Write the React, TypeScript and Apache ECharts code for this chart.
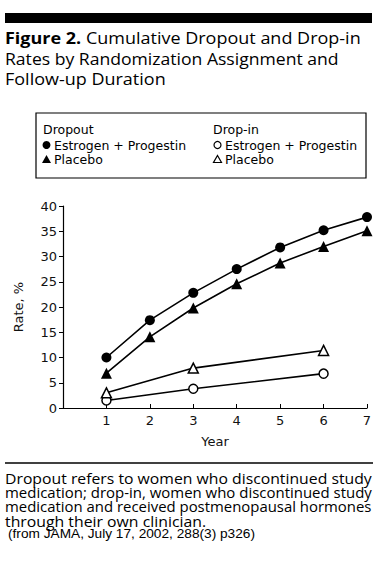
import React, { useEffect, useRef } from "react";
import * as echarts from "echarts";

const years = [1, 2, 3, 4, 5, 6, 7];
const dropinYears = [1, 3, 6];
const dropoutEP = [10.0, 17.4, 22.8, 27.5, 31.8, 35.2, 37.8];
const dropoutPlacebo = [6.9, 14.1, 19.8, 24.6, 28.7, 32.0, 35.1];
const dropinEP = [1.5, 3.8, 6.8];
const dropinPlacebo = [3.0, 7.9, 11.4];
const yTicks = [0, 5, 10, 15, 20, 25, 30, 35, 40];
const xTicks = [1, 2, 3, 4, 5, 6, 7];

const titleLines = [
  "Cumulative Dropout and Drop-in",
  "Rates by Randomization Assignment and",
  "Follow-up Duration",
];
const captionLines = [
  "Dropout refers to women who discontinued study",
  "medication; drop-in, women who discontinued study",
  "medication and received postmenopausal hormones",
  "through their own clinician.",
];
const sourceText = "(from JAMA, July 17, 2002, 288(3) p326)";

const zip = (xs: number[], ys: number[]) => xs.map((x, i) => [x, ys[i]]);

export default function App() {
  const ref = useRef<HTMLDivElement>(null);
  useEffect(() => {
    if (!ref.current) return;
    const chart = echarts.init(ref.current, null, { renderer: "svg" });
    const serif = "'Open Sans', sans-serif";
    const sans = "'DejaVu Sans', sans-serif";
    const helv = "'Liberation Sans', Arial, sans-serif";
    const lineStyle = { color: "#000", width: 1.6 };
    const stretch = 1.125;

    const canvas = document.createElement("canvas");
    const ctx = canvas.getContext("2d");
    const captionFont = "14px 'Open Sans', sans-serif";
    const measure = (t: string) => {
      if (!ctx) return 325;
      ctx.font = captionFont;
      return ctx.measureText(t).width;
    };
    const justifiedWidth = 367;
    const captionEls = captionLines.map((t, i) => {
      const w = measure(t);
      const isLast = i === captionLines.length - 1;
      const sx = isLast ? 1.13 : justifiedWidth / w;
      return {
        type: "text",
        x: 5,
        y: 478 + i * 14.5,
        scaleX: sx,
        style: {
          text: t,
          fontFamily: serif,
          fontSize: 14,
          lineHeight: 14,
          fill: "#000",
          verticalAlign: "middle",
        },
      };
    });

    chart.setOption({
      animation: false,
      backgroundColor: "#fff",
      grid: { left: 63, right: 22, top: 206, bottom: 154 },
      xAxis: {
        type: "value",
        min: 0,
        max: 7,
        interval: 1,
        name: "Year",
        nameLocation: "middle",
        nameGap: 27,
        nameTextStyle: { fontFamily: sans, fontSize: 13, color: "#111" },
        axisLine: { lineStyle: { color: "#000", width: 1.2 } },
        axisTick: { inside: true, length: 4, lineStyle: { color: "#000" } },
        axisLabel: {
          fontFamily: sans,
          fontSize: 13,
          color: "#111",
          margin: 6,
          formatter: (v: number) => (xTicks.includes(v) ? String(v) : ""),
        },
        splitLine: { show: false },
      },
      yAxis: {
        type: "value",
        min: 0,
        max: 40,
        interval: 5,
        name: "Rate, %",
        nameLocation: "middle",
        nameGap: 38,
        nameRotate: 90,
        nameTextStyle: { fontFamily: sans, fontSize: 13, color: "#111" },
        axisLine: { show: true, lineStyle: { color: "#000", width: 1.2 } },
        axisTick: { show: true, length: 4, lineStyle: { color: "#000" } },
        axisLabel: {
          fontFamily: sans,
          fontSize: 13,
          color: "#111",
          margin: 6,
          formatter: (v: number) => (yTicks.includes(v) ? String(v) : ""),
        },
        splitLine: { show: false },
      },
      series: [
        {
          type: "line",
          name: "Dropout Estrogen + Progestin",
          data: zip(years, dropoutEP),
          symbol: "circle",
          symbolSize: 10,
          lineStyle,
          itemStyle: { color: "#000" },
        },
        {
          type: "line",
          name: "Dropout Placebo",
          data: zip(years, dropoutPlacebo),
          symbol: "triangle",
          symbolSize: 11,
          lineStyle,
          itemStyle: { color: "#000" },
        },
        {
          type: "line",
          name: "Drop-in Estrogen + Progestin",
          data: zip(dropinYears, dropinEP),
          symbol: "circle",
          symbolSize: 9,
          lineStyle,
          itemStyle: { color: "#fff", borderColor: "#000", borderWidth: 1.5 },
        },
        {
          type: "line",
          name: "Drop-in Placebo",
          data: zip(dropinYears, dropinPlacebo),
          symbol: "triangle",
          symbolSize: 10,
          lineStyle,
          itemStyle: { color: "#fff", borderColor: "#000", borderWidth: 1.5 },
        },
      ],
      graphic: [
        { type: "rect", shape: { x: 5, y: 13, width: 367, height: 10 }, style: { fill: "#000" } },
        {
          type: "text",
          x: 5,
          y: 38,
          scaleX: stretch,
          style: {
            text: "{b|Figure 2.} " + titleLines[0],
            fontFamily: serif,
            fontSize: 16,
            fill: "#000",
            verticalAlign: "middle",
            rich: { b: { fontFamily: serif, fontSize: 16, fontWeight: "bold", fill: "#000" } },
          },
        },
        {
          type: "text",
          x: 5,
          y: 58.5,
          scaleX: 1.1,
          style: { text: titleLines[1], fontFamily: serif, fontSize: 16, fill: "#000", verticalAlign: "middle" },
        },
        {
          type: "text",
          x: 5,
          y: 79,
          scaleX: stretch,
          style: { text: titleLines[2], fontFamily: serif, fontSize: 16, fill: "#000", verticalAlign: "middle" },
        },
        {
          type: "rect",
          shape: { x: 36, y: 113, width: 330, height: 65 },
          style: { fill: "none", stroke: "#000", lineWidth: 1.2 },
        },
        { type: "text", x: 43, y: 129, style: { text: "Dropout", fontFamily: sans, fontSize: 12.5, fill: "#000", verticalAlign: "middle" } },
        { type: "circle", shape: { cx: 46.5, cy: 145, r: 4 }, style: { fill: "#000" } },
        { type: "text", x: 54, y: 145, style: { text: "Estrogen + Progestin", fontFamily: sans, fontSize: 12.5, fill: "#000", verticalAlign: "middle" } },
        { type: "polygon", shape: { points: [[46.5, 155], [51, 163], [42, 163]] }, style: { fill: "#000" } },
        { type: "text", x: 54, y: 159, style: { text: "Placebo", fontFamily: sans, fontSize: 12.5, fill: "#000", verticalAlign: "middle" } },
        { type: "text", x: 213, y: 129, style: { text: "Drop-in", fontFamily: sans, fontSize: 12.5, fill: "#000", verticalAlign: "middle" } },
        { type: "circle", shape: { cx: 217.5, cy: 145, r: 3.5 }, style: { fill: "#fff", stroke: "#000", lineWidth: 1.2 } },
        { type: "text", x: 225, y: 145, style: { text: "Estrogen + Progestin", fontFamily: sans, fontSize: 12.5, fill: "#000", verticalAlign: "middle" } },
        { type: "polygon", shape: { points: [[217.5, 155.5], [221.5, 162.5], [213.5, 162.5]] }, style: { fill: "#fff", stroke: "#000", lineWidth: 1.2 } },
        { type: "text", x: 225, y: 159, style: { text: "Placebo", fontFamily: sans, fontSize: 12.5, fill: "#000", verticalAlign: "middle" } },
        { type: "line", shape: { x1: 5, y1: 463, x2: 373, y2: 463 }, style: { stroke: "#000", lineWidth: 1.5 } },
        ...captionEls,
        {
          type: "text",
          x: 8,
          y: 534,
          scaleX: 1.14,
          style: { text: sourceText, fontFamily: helv, fontSize: 12, lineHeight: 12, fill: "#000", verticalAlign: "middle" },
        },
      ],
    });
    return () => chart.dispose();
  }, []);
  return <div ref={ref} style={{ position: "absolute", left: 0, top: 0, width: 389, height: 562 }} />;
}
